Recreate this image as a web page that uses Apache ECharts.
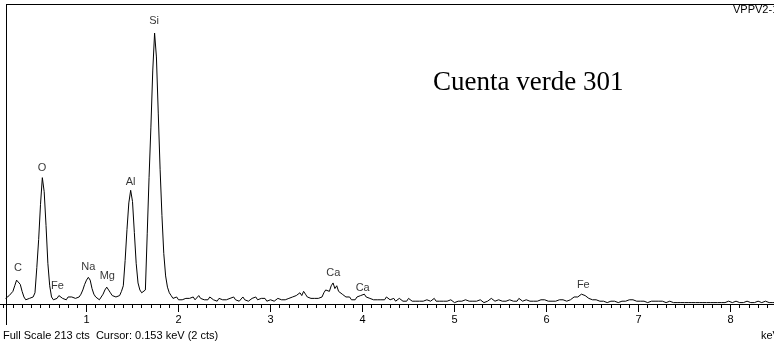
<!DOCTYPE html>
<html>
<head>
<meta charset="utf-8">
<script src="https://cdn.jsdelivr.net/npm/echarts@6/dist/echarts.min.js"></script>
<style>html,body{margin:0;padding:0;background:#fff}#c{width:774px;height:344px}</style>
</head>
<body>
<div id="c"></div>
<script>
// Spectrum: counts per channel, channel energy = E0 + i*STEP (keV)
const E0 = 0.12;
const STEP = 0.02;
const counts = [
  4,4,6,7,9,13,17,18,14,9, 5,3,4,4,5,5,8,26,46,71, 90,80,56,29,13,
  5,3,3,4,6,5,4,4,3,5, 4,5,4,4,5,5,7,10,14,17, 19,17,11,7,5,
  4,3,4,7,10,12,10,8,6,5, 5,5,6,9,13,31,53,72,81,73, 51,29,15,10,8,
  7,10,50,90,126,166,193,176,136,96, 63,36,20,12,8,6,4,3,5,3, 4,3,2,4,3,
  4,3,5,3,4,6,4,5,3,4, 3,5,4,3,4,2,4,5,3,4, 3,2,4,3,5,
  3,4,2,3,5,3,4,2,3,4, 3,5,3,2,4,3,4,2,3,3, 4,2,3,4,3,
  3,4,3,2,4,3,5,4,6,5, 8,6,9,7,5,6,4,5,4,3, 4,3,5,8,10,
  11,9,13,15,11,13,9,10,7,8, 5,4,5,3,4,3,5,4,6,5, 7,5,6,4,3,
  3,2,3,4,3,2,3,5,4,3, 3,4,2,3,4,3,2,3,2,4, 3,2,3,2,3,
  2,3,2,1,3,2,2,3,4,2, 3,2,1,2,3,2,2,3,2,1, 2,2,3,2,2,
  3,2,2,1,2,3,2,2,3,2, 1,2,2,3,4,3,2,2,3,2, 2,1,2,2,3,
  2,2,3,2,4,3,2,2,3,2, 2,3,2,3,2,2,3,4,3,2, 2,3,2,3,2,
  2,3,2,3,2,2,3,3,4,5, 4,5,6,7,6,6,5,4,3,3, 2,3,2,2,3,
  2,2,1,2,2,1,2,1,1,2, 2,1,2,2,3,2,3,3,2,3, 2,3,2,2,1,
  2,2,3,2,2,2,1,2,2,1, 2,2,2,1,1,1,1,1,1,1, 1,1,1,1,1,
  1,1,1,1,1,1,1,1,1,1, 1,1,1,1,1,2,1,1,2,2, 1,2,2,1,1,
  2,1,1,2,2,1,1,1,1,2, 2,1,1,2,1,1,2,1,1
];
// Peak identification labels
const peakNames = ['C','O','Fe','Na','Mg','Al','Si','Ca','Ca','Fe'];
const peakKeV   = [0.255,0.516,0.683,1.02,1.226,1.48,1.734,3.683,4.002,6.40];
const peakCts   = [25.9,96.6,13,26.6,19.9,86.7,201.5,21.9,11.6,13.5];
const xTicks = [0,1,2,3,4,5,6,7,8,9];
const fullScale = 213;

const spectrum = counts.map((c,i)=>[+(E0 + i*STEP).toFixed(2), c]);
const labelData = peakNames.map((n,i)=>({name:n, value:[peakKeV[i], peakCts[i]]}));

const FONT = '"Liberation Sans", Arial, sans-serif';
const chart = echarts.init(document.getElementById('c'), null, {renderer:'canvas'});
chart.setOption({
  animation:false,
  backgroundColor:'#ffffff',
  grid:{left:-5.5, top:5, width:828, height:299, containLabel:false, outerBoundsMode:'none'},
  xAxis:{
    type:'value', min:xTicks[0], max:xTicks[xTicks.length-1], interval:1,
    axisLine:{show:true, lineStyle:{color:'#000', width:1}},
    axisTick:{show:true, length:8, lineStyle:{color:'#000', width:1}},
    minorTick:{show:true, splitNumber:10, length:4, lineStyle:{color:'#000', width:1}},
    axisLabel:{show:true, color:'#000', fontSize:11, fontFamily:FONT, margin:10,
      showMinLabel:false, formatter:v=> (v>=1 && v<=8) ? String(v) : ''},
    splitLine:{show:false}
  },
  yAxis:{type:'value', min:0, max:fullScale, show:false, splitLine:{show:false}},
  series:[
    {type:'line', data:spectrum, symbol:'none', showSymbol:false,
     lineStyle:{color:'#000', width:1}, silent:true, z:3},
    {type:'scatter', data:labelData, symbolSize:0, silent:true, z:4,
     label:{show:true, position:'inside', formatter:'{b}', color:'#000', fontSize:11, fontFamily:FONT}}
  ],
  graphic:[
    {type:'line', shape:{x1:6, y1:4.5, x2:774, y2:4.5}, style:{stroke:'#000', lineWidth:1}},
    {type:'line', shape:{x1:6.5, y1:4.5, x2:6.5, y2:325}, style:{stroke:'#000', lineWidth:1}},
    {type:'text', left:433, top:69, style:{text:'Cuenta verde 301', fill:'#000', font:'27px "Liberation Serif", "Times New Roman", serif'}},
    {type:'text', left:733, top:4, style:{text:'VPPV2-1', fill:'#000', font:'11px "Liberation Sans", Arial, sans-serif'}},
    {type:'text', left:3, top:330, style:{text:'Full Scale 213 cts  Cursor: 0.153 keV (2 cts)', fill:'#000', font:'11px "Liberation Sans", Arial, sans-serif'}},
    {type:'text', left:761, top:330, style:{text:'keV', fill:'#000', font:'11px "Liberation Sans", Arial, sans-serif'}}
  ]
});
</script>
</body>
</html>
